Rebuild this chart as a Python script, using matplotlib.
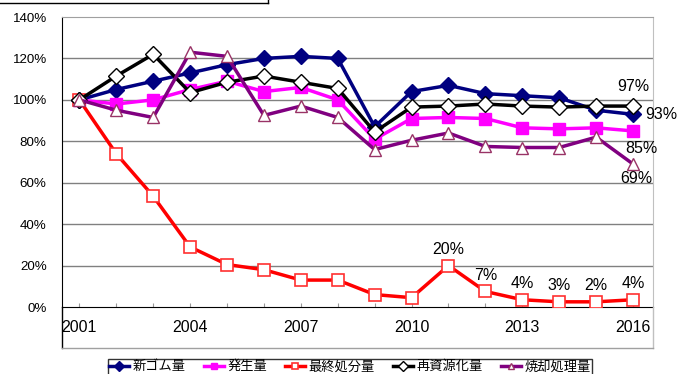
import matplotlib
matplotlib.use('Agg')
import matplotlib.pyplot as plt
from matplotlib.lines import Line2D
import numpy as np

plt.rcParams['font.family'] = ['Liberation Sans', 'DejaVu Sans']

years = list(range(2001, 2017))
new_rubber = [100, 105, 109, 113, 117, 120, 121, 120, 87, 104, 107, 103, 102, 101, 95, 93]
generated = [100, 98, 100, 105, 109, 104, 106, 100, 81, 91, 91.5, 91, 86.5, 86, 86.5, 85]
landfill = [100, 74, 53.5, 29, 20.5, 18, 13, 13, 6, 4.5, 20, 7.5, 3.5, 2.5, 2.5, 3.5]
recycled = [100, 111.5, 122, 103.5, 108.5, 111.5, 108.5, 105.5, 84.5, 96.5, 97, 98, 97, 96.5, 97, 97]
incinerated = [100, 95, 91.5, 123, 121, 92.5, 97, 91.5, 76, 80.5, 84, 77.5, 77, 77, 82, 69]

names = ['新ゴム量', '発生量', '最終処分量', '再資源化量', '焼却処理量']
landfill_labels = {10: '20%', 11: '7%', 12: '4%', 13: '3%', 14: '2%', 15: '4%'}

W, H = 679, 374
fig = plt.figure(figsize=(W / 100, H / 100), dpi=100)
ax = fig.add_axes([62 / W, (H - 307) / H, (653 - 62) / W, 290 / H])

x = np.arange(len(years))
ax.plot(x, new_rubber, color='#000080', lw=2.5, marker='D', ms=8.5, label=names[0], zorder=4)
ax.plot(x, generated, color='#FF00FF', lw=2.5, marker='s', ms=8, label=names[1], zorder=4)
ax.plot(x, landfill, color='#FF0000', lw=2.5, marker='s', ms=8, mfc='white', mec='#FF3030',
        mew=1.2, label=names[2], zorder=4)
ax.plot(x, recycled, color='black', lw=2.5, marker='D', ms=8.5, mfc='white', mec='black',
        mew=1, label=names[3], zorder=5)
ax.plot(x, incinerated, color='#800080', lw=2.5, marker='^', ms=8, mfc='white', mec='#993366',
        mew=1, label=names[4], zorder=5)

ax.set_xlim(-0.47, 15.54)
ax.set_ylim(0, 140)
ax.set_yticks(range(0, 141, 20))
ax.set_yticklabels([f'{v}%' for v in range(0, 141, 20)], fontsize=9.6)
ax.tick_params(axis='y', length=0, pad=11)
ax.set_xticks(x)
ax.set_xticklabels([str(y) if (y - 2001) % 3 == 0 else '' for y in years], fontsize=11.5)
ax.tick_params(axis='x', direction='in', length=3, color='#999999', pad=9)
for v in range(20, 140, 20):
    ax.axhline(v, color='#808080', lw=1, zorder=1)
ax.spines['left'].set_color('black')
ax.spines['bottom'].set_color('black')
ax.spines['top'].set_color('#a0a0a0')
ax.spines['right'].set_color('#c0c0c0')

lab_font = dict(fontsize=11.5)
for i, t in landfill_labels.items():
    ax.annotate(t, (x[i], landfill[i]), xytext=(0, 6), textcoords='offset points',
                ha='center', va='bottom', **lab_font)
ax.annotate('97%', (x[15], recycled[15]), xytext=(0, 9), textcoords='offset points',
            ha='center', va='bottom', **lab_font)
ax.annotate('93%', (x[15], new_rubber[15]), xytext=(9, 0), textcoords='offset points',
            ha='left', va='center', **lab_font)
ax.annotate('85%', (x[15], generated[15]), xytext=(6, -7), textcoords='offset points',
            ha='center', va='top', **lab_font)
ax.annotate('69%', (x[15], incinerated[15]), xytext=(2, -5), textcoords='offset points',
            ha='center', va='top', **lab_font)

# chart frame below the axis
y0, y1 = (H - 348) / H, (H - 307) / H
fig.add_artist(Line2D([62 / W, 62 / W], [y0, y1], color='black', lw=1))
fig.add_artist(Line2D([653 / W, 653 / W], [y0, y1], color='#c0c0c0', lw=1))
fig.add_artist(Line2D([62 / W, 653 / W], [y0, y0], color='#a0a0a0', lw=1))
# title box edge at the top
fig.add_artist(Line2D([0, 268 / W], [(H - 3) / H, (H - 3) / H], color='black', lw=1))
fig.add_artist(Line2D([268 / W, 268 / W], [(H - 3) / H, 1], color='black', lw=1))

leg = fig.legend(loc='upper center', bbox_to_anchor=(350 / W, (H - 359) / H), ncol=5,
                 frameon=True, fancybox=False, edgecolor='black', borderaxespad=0,
                 prop={'family': ['Noto Sans CJK JP', 'DejaVu Sans'], 'size': 9.5},
                 handlelength=1.5, handletextpad=0.3, columnspacing=1.35, markerscale=0.6,
                 borderpad=0.1)
leg.get_frame().set_linewidth(1)

fig.savefig('out.png', dpi=100)
